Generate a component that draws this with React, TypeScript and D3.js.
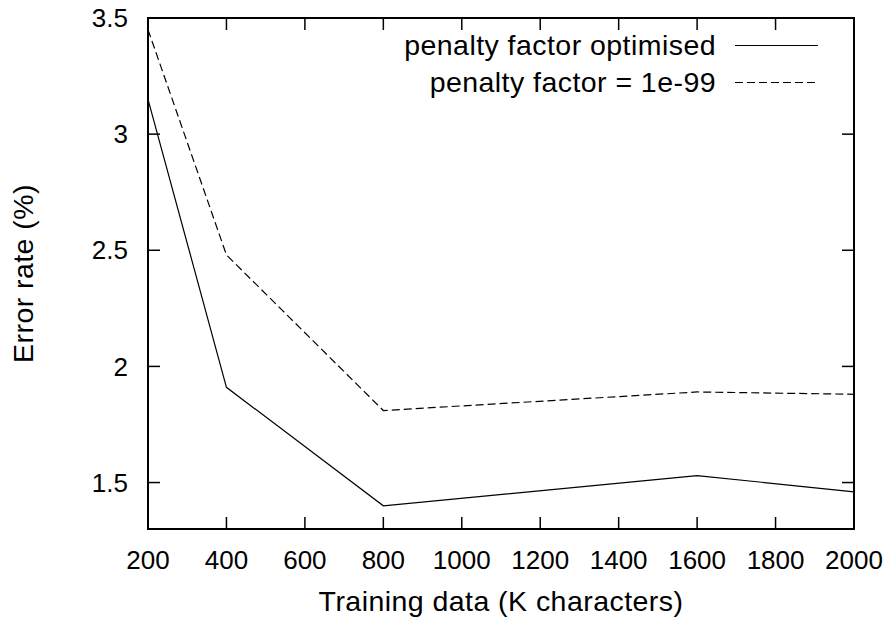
import React from "react";
import * as d3 from "d3";

const trainingData = [200, 400, 800, 1600, 2000];
const optimisedSeries = [3.15, 1.91, 1.40, 1.53, 1.46];
const tinyPenaltySeries = [3.45, 2.48, 1.81, 1.89, 1.88];
const xTicks = [200, 400, 600, 800, 1000, 1200, 1400, 1600, 1800, 2000];
const yTicks = [1.5, 2, 2.5, 3, 3.5];
const yTickLabels = ["1.5", "2", "2.5", "3", "3.5"];
const seriesNames = ["penalty factor optimised", "penalty factor = 1e-99"];

const W = 895;
const H = 624;
const left = 148, right = 854, top = 18, bottom = 529;
const FONT = "'Liberation Sans', Arial, Helvetica, sans-serif";
const FS = 26;
const LFS = 28.5;
const LS = 0.45;

export default function App() {
  const x = d3.scaleLinear().domain([200, 2000]).range([left, right]);
  const y = d3.scaleLinear().domain([1.3, 3.5]).range([bottom, top]);
  const line = d3
    .line<[number, number]>()
    .x((d) => x(d[0]))
    .y((d) => y(d[1]));
  const s1 = trainingData.map((t, i) => [t, optimisedSeries[i]] as [number, number]);
  const s2 = trainingData.map((t, i) => [t, tinyPenaltySeries[i]] as [number, number]);
  const tickLen = 12;
  const legendY = [45.5, 82.5];
  const dash = "8,4";

  return (
    <svg
      width={W}
      height={H}
      style={{ position: "absolute", left: 0, top: 0, background: "#fff" }}
      fontFamily={FONT}
    >
      <rect x={0} y={0} width={W} height={H} fill="#fff" />
      {/* data */}
      <path d={line(s1) || ""} fill="none" stroke="#000" strokeWidth={1.2} />
      <path d={line(s2) || ""} fill="none" stroke="#000" strokeWidth={1.2} strokeDasharray={dash} />
      {/* ticks */}
      {xTicks.map((t) => (
        <g key={"x" + t}>
          <line x1={x(t)} x2={x(t)} y1={bottom} y2={bottom - tickLen} stroke="#000" strokeWidth={1.5} />
          <line x1={x(t)} x2={x(t)} y1={top} y2={top + tickLen} stroke="#000" strokeWidth={1.5} />
          <text x={x(t)} y={569} textAnchor="middle" fontSize={FS} fill="#000">
            {String(t)}
          </text>
        </g>
      ))}
      {yTicks.map((t, i) => (
        <g key={"y" + t}>
          <line x1={left} x2={left + tickLen} y1={y(t)} y2={y(t)} stroke="#000" strokeWidth={1.5} />
          <line x1={right} x2={right - tickLen} y1={y(t)} y2={y(t)} stroke="#000" strokeWidth={1.5} />
          <text x={128} y={y(t)} dy="0.35em" textAnchor="end" fontSize={FS} fill="#000">
            {yTickLabels[i]}
          </text>
        </g>
      ))}
      {/* border */}
      <rect x={left} y={top} width={right - left} height={bottom - top} fill="none" stroke="#000" strokeWidth={2} />
      {/* axis labels */}
      <text
        x={(left + right) / 2}
        y={611}
        textAnchor="middle"
        fontSize={LFS}
        letterSpacing={LS}
        fill="#000"
      >
        Training data (K characters)
      </text>
      <text
        transform={`translate(33, ${(top + bottom) / 2}) rotate(-90)`}
        textAnchor="middle"
        fontSize={LFS}
        letterSpacing={LS}
        fill="#000"
      >
        Error rate (%)
      </text>
      {/* legend */}
      {seriesNames.map((n, i) => (
        <g key={n}>
          <text
            x={716}
            y={legendY[i]}
            dy="0.33em"
            textAnchor="end"
            fontSize={LFS}
            letterSpacing={LS}
            fill="#000"
          >
            {n}
          </text>
          <line
            x1={735}
            x2={818}
            y1={legendY[i]}
            y2={legendY[i]}
            stroke="#000"
            strokeWidth={1.2}
            strokeDasharray={i === 1 ? dash : undefined}
          />
        </g>
      ))}
    </svg>
  );
}
